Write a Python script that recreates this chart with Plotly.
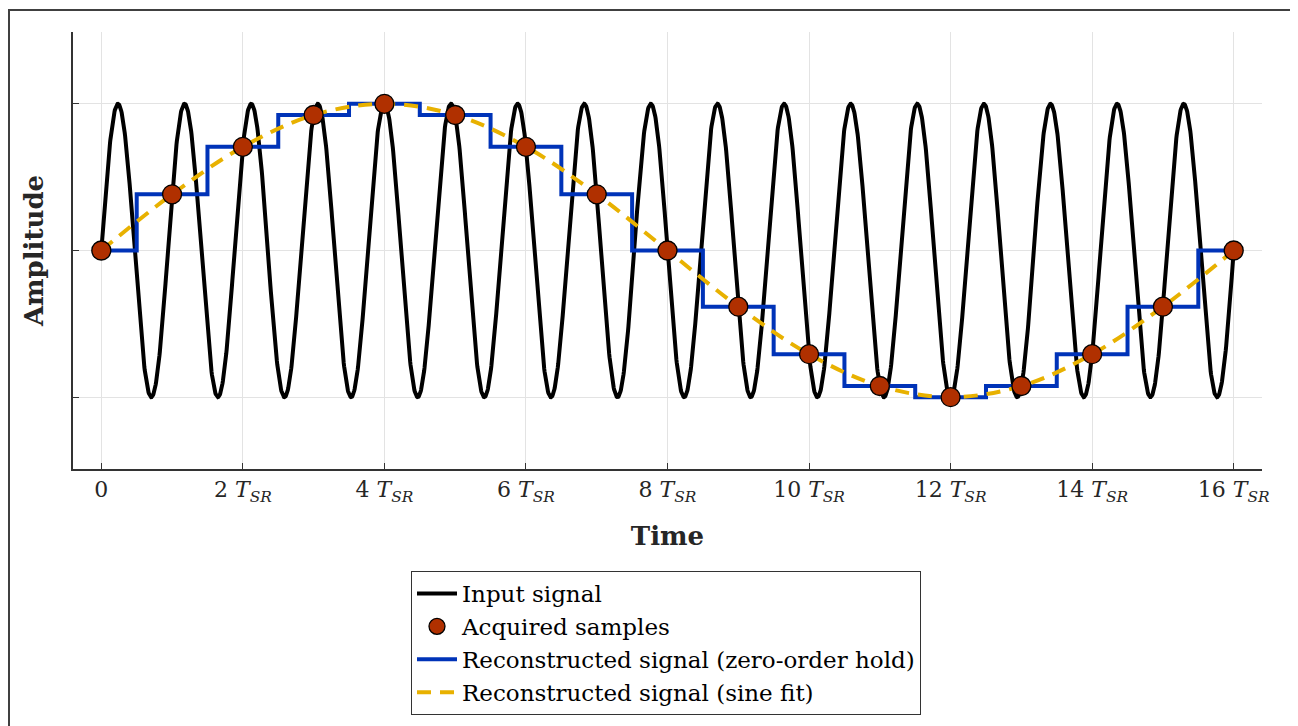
import numpy as np
import plotly.graph_objects as go

# ---- data ----
sample_times = [0, 1, 2, 3, 4, 5, 6, 7, 8, 9, 10, 11, 12, 13, 14, 15, 16]
sample_values = [0.0, 0.383, 0.707, 0.924, 1.0, 0.924, 0.707, 0.383, 0.0,
                 -0.383, -0.707, -0.924, -1.0, -0.924, -0.707, -0.383, 0.0]
# input signal: a sinusoid of amplitude 1 with 17 cycles over 16 sample periods
input_amplitude = 1.0
input_cycles_per_sample = 17 / 16
input_t_start, input_t_end, input_n = 0.0, 16.0, 3000

tick_vals = [0, 2, 4, 6, 8, 10, 12, 14, 16]
tick_text = ["0"] + [f"{v} <i>T</i><sub><i>SR</i></sub>" for v in tick_vals[1:]]

series_names = ["Input signal", "Acquired samples",
                "Reconstructed signal (zero-order hold)",
                "Reconstructed signal (sine fit)"]

t_in = np.linspace(input_t_start, input_t_end, input_n)
y_in = input_amplitude * np.sin(2 * np.pi * input_cycles_per_sample * t_in)

FONT = "DejaVu Serif"
fig = go.Figure()
fig.add_trace(go.Scatter(x=t_in, y=y_in, mode="lines", name=series_names[0],
                         line=dict(color="black", width=4), legendrank=1))
fig.add_trace(go.Scatter(x=sample_times, y=sample_values, mode="lines", name=series_names[2],
                         line=dict(color="#0033B8", width=4, shape="hvh"),
                         legendrank=3))
fig.add_trace(go.Scatter(x=sample_times, y=sample_values, mode="lines", name=series_names[3],
                         line=dict(color="#E8B100", width=4, shape="spline", dash="14px,9px"),
                         legendrank=4))
fig.add_trace(go.Scatter(x=sample_times, y=sample_values, mode="markers", name=series_names[1],
                         marker=dict(color="#B03000", size=19,
                                     line=dict(color="black", width=1.3)),
                         legendrank=2))

# page body has an 8px margin: figure is 1290x718 drawn at (8, 8)
W, H = 1290, 718
L, T, R, B = 65, 24, 36, 256
PW, PH = W - L - R, H - T - B

fig.update_layout(
    width=W, height=H,
    margin=dict(l=L, r=R, t=T, b=B),
    paper_bgcolor="white", plot_bgcolor="white",
    font=dict(family=FONT, color="#262626", size=20),
    showlegend=True,
    legend=dict(x=(411 - 73) / PW, y=(470 - 571) / PH, xanchor="left", yanchor="top",
                bgcolor="white", bordercolor="#333333", borderwidth=1,
                font=dict(family=FONT, size=23, color="black"),
                tracegroupgap=0, itemwidth=40),
    xaxis=dict(range=[-0.4, 16.4], tickvals=tick_vals, ticktext=tick_text,
               showgrid=True, gridcolor="#E3E3E3", gridwidth=1,
               zeroline=False, showline=True, linecolor="#333333", linewidth=1.5,
               ticks="inside", ticklen=6, tickcolor="#333333",
               tickfont=dict(family=FONT, size=22, color="#262626"),
               title=dict(text="<b>Time</b>", font=dict(family=FONT, size=26, color="#262626"),
                          standoff=22)),
    yaxis=dict(range=[-1.49, 1.49], tickvals=[-1, 0, 1], ticktext=["", "", ""],
               showgrid=True, gridcolor="#E3E3E3", gridwidth=1,
               zeroline=False, showline=True, linecolor="#333333", linewidth=1.5,
               ticks="inside", ticklen=6, tickcolor="#333333",
               title=dict(text="<b>Amplitude</b>", font=dict(family=FONT, size=26, color="#262626"),
                          standoff=16)),
)
# outer figure frame
fig.add_shape(type="rect", xref="paper", yref="paper",
              x0=(1 - L) / PW, x1=(1286 - L) / PW,
              y0=-0.7, y1=(PH + T - 2) / PH,
              line=dict(color="#404040", width=2), fillcolor="rgba(0,0,0,0)",
              layer="below")

fig.write_html("out.html")
